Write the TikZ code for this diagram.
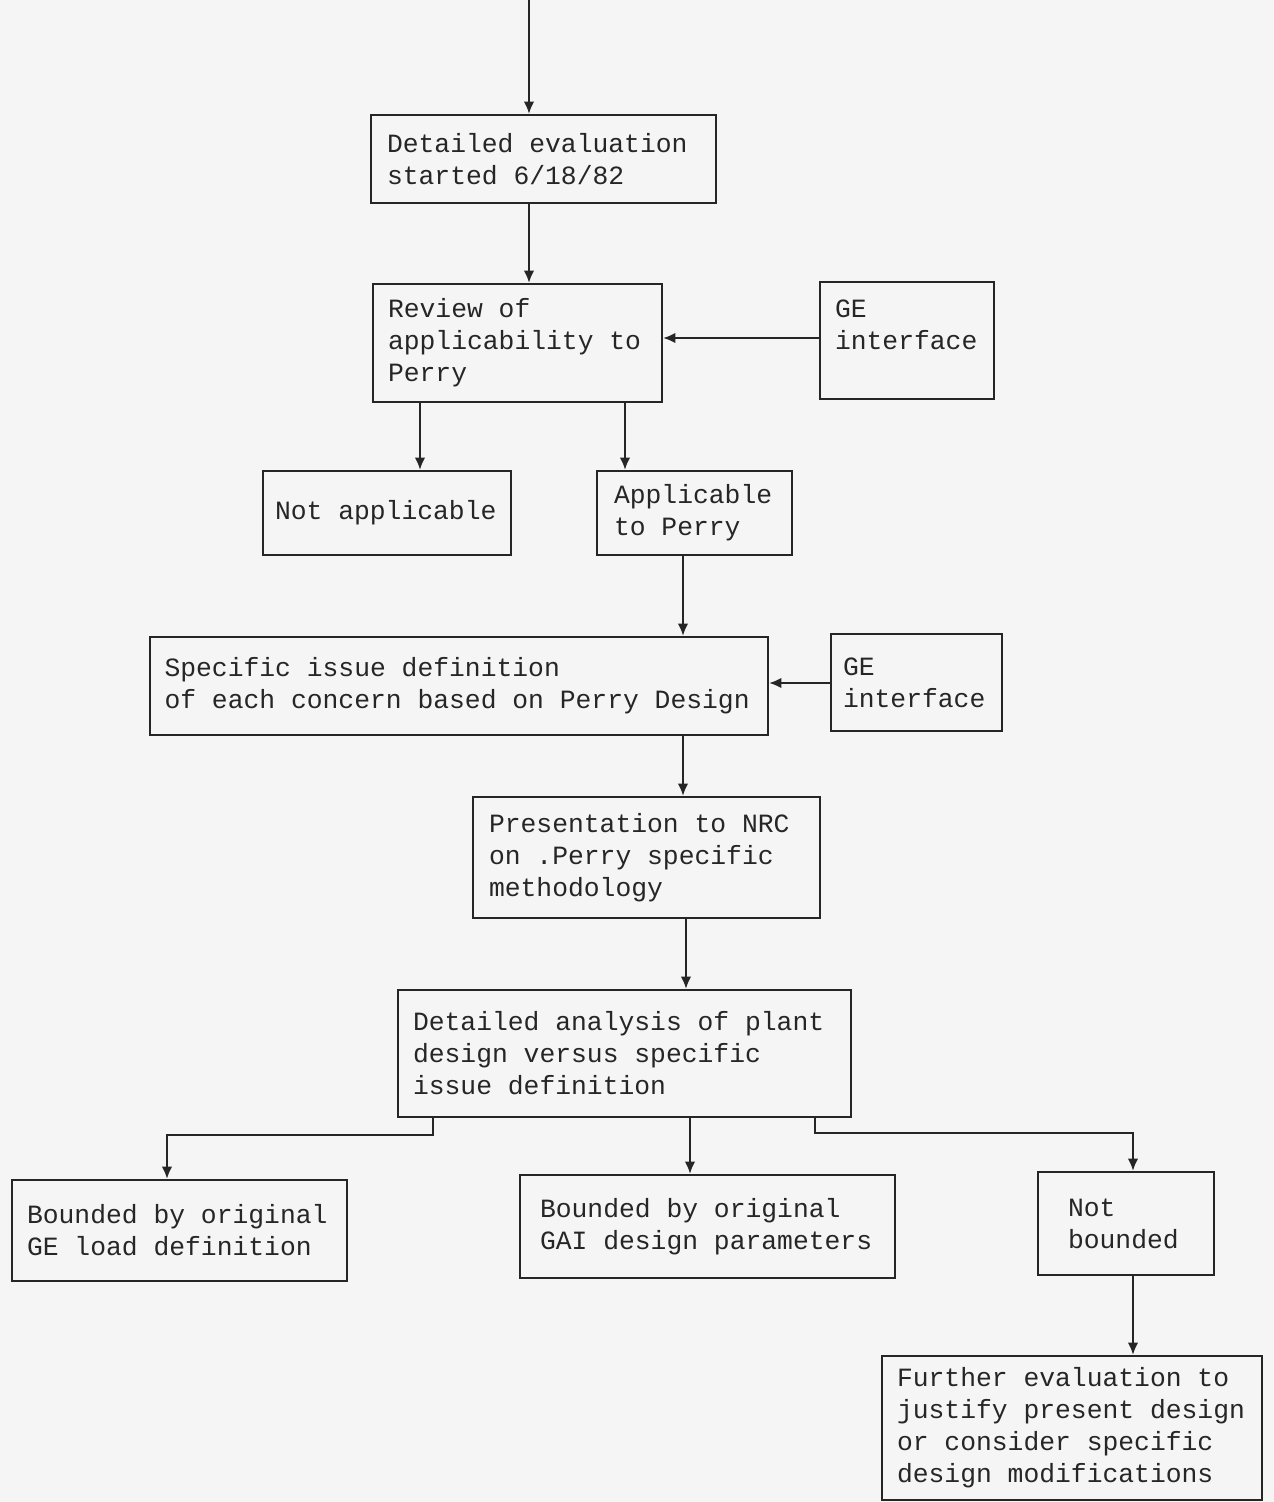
\documentclass[tikz,border=0pt]{standalone}
\usepackage{fontspec}
\usepackage{tikz}
\usetikzlibrary{arrows.meta}
\newfontfamily\typefont[WordSpace={1,0,0}]{Liberation Mono}
\colorlet{ink}{black!85}
\colorlet{paper}{black!4}

\begin{document}
\begin{tikzpicture}[
            x=0.02cm, y=-0.02cm,
            box/.style={draw=ink, text=ink, line width=1.3pt, align=flush left, inner ysep=0pt,
                font=\typefont\fontsize{15}{18.2}\selectfont},
            link/.style={-{Latex[length=7pt,width=6pt]}, draw=ink, line width=1.1pt}
        ]
            \fill [paper] (0,0) rectangle (1274,1502);
            \useasboundingbox (0,0) rectangle (1274,1502);

            \node [box, text width=6.26cm, inner xsep=0.32cm, minimum height=1.76cm] (eval) at (543.5,159) {Detailed evaluation\\started 6/18/82};
            \node [box, text width=5.18cm, inner xsep=0.30cm, minimum height=2.36cm] (review) at (517.5,343) {Review of\\applicability to\\Perry};
            \node [box, text width=2.88cm, inner xsep=0.30cm, minimum height=2.34cm] (ge1) at (907,340.5) {GE\\interface\\~};
            \node [box, text width=4.48cm, inner xsep=0.24cm, minimum height=1.68cm] (notapp) at (387,513) {Not applicable};
            \node [box, text width=3.22cm, inner xsep=0.34cm, minimum height=1.68cm] (app) at (694.5,513) {Applicable\\to Perry};
            \node [box, text width=11.78cm, inner xsep=0.29cm, minimum height=1.96cm] (issue) at (459,686) {Specific issue definition\\of each concern based on Perry Design};
            \node [box, text width=2.94cm, inner xsep=0.24cm, minimum height=1.94cm] (ge2) at (916.5,682.5) {GE\\interface};
            \node [box, text width=6.30cm, inner xsep=0.32cm, minimum height=2.42cm] (nrc) at (646.5,857.5) {Presentation to NRC\\on .Perry specific\\methodology};
            \node [box, text width=8.46cm, inner xsep=0.30cm, minimum height=2.54cm] (analysis) at (624.5,1053.5) {Detailed analysis of plant\\design versus specific\\issue definition};
            \node [box, text width=6.10cm, inner xsep=0.30cm, minimum height=2.02cm] (loadge) at (179.5,1230.5) {Bounded by original\\GE load definition};
            \node [box, text width=6.70cm, inner xsep=0.40cm, minimum height=2.06cm] (paramgai) at (707.5,1226.5) {Bounded by original\\GAI design parameters};
            \node [box, text width=2.32cm, inner xsep=0.60cm, minimum height=2.06cm] (notbnd) at (1126,1223.5) {Not\\bounded};
            \node [box, text width=7.00cm, inner xsep=0.30cm, minimum height=2.88cm] (further) at (1072,1428) {Further evaluation to\\justify present design\\or consider specific\\design modifications};

            \coordinate (entry) at (529,0);
            \draw [link] (entry) -- (entry |- eval.north);
            \draw [link] (eval.south -| 529,0) -- (review.north -| 529,0);
            \draw [link] (ge1.west |- 0,338) -- (review.east |- 0,338);
            \draw [link] (review.south -| 420,0) -- (notapp.north -| 420,0);
            \draw [link] (review.south -| 625,0) -- (app.north -| 625,0);
            \draw [link] (app.south -| 683,0) -- (issue.north -| 683,0);
            \draw [link] (ge2.west |- 0,683) -- (issue.east |- 0,683);
            \draw [link] (issue.south -| 683,0) -- (nrc.north -| 683,0);
            \draw [link] (nrc.south -| 686,0) -- (analysis.north -| 686,0);
            \draw [link] (analysis.south -| 433,0) -- (433,1135) -| (loadge.north -| 167,0);
            \draw [link] (analysis.south -| 690,0) -- (paramgai.north -| 690,0);
            \draw [link] (analysis.south -| 815,0) -- (815,1133) -| (notbnd.north -| 1133,0);
            \draw [link] (notbnd.south -| 1133,0) -- (further.north -| 1133,0);
        \end{tikzpicture}
\end{document}
